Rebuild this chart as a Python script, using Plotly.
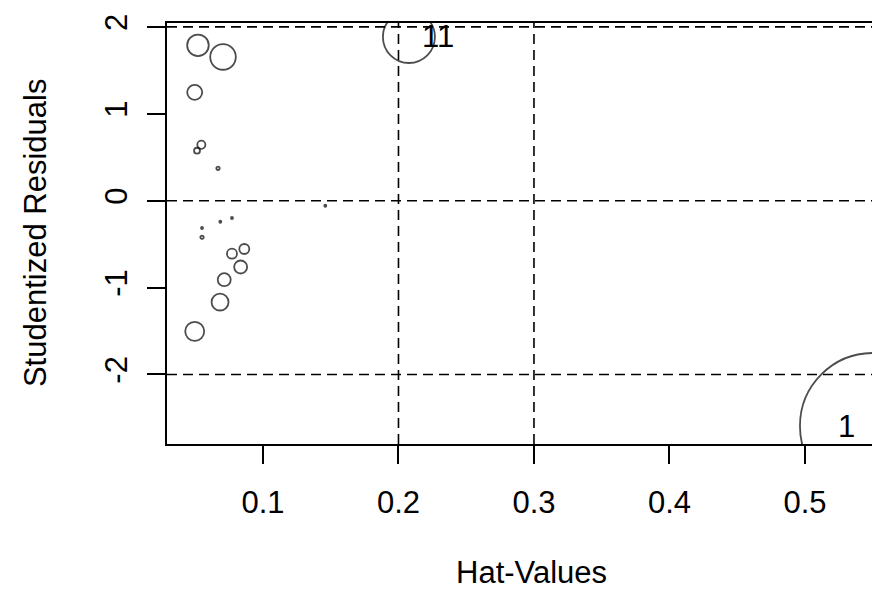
import numpy as np
import plotly.graph_objects as go

# Observations (hat-values, studentized residuals, Cook's distance)
obs_ids = [None, None, None, None, None, None, None, None, None, None,
           None, None, None, None, None, None, None, "11", "1"]
hat_values = [0.0520, 0.0705, 0.0496, 0.0545, 0.0513, 0.0668, 0.1460, 0.0771,
              0.0685, 0.0550, 0.0550, 0.0771, 0.0862, 0.0835, 0.0714, 0.0683,
              0.0496, 0.2077, 0.5502]
stud_resid = [1.788, 1.654, 1.247, 0.644, 0.575, 0.373, -0.058, -0.199,
              -0.242, -0.314, -0.421, -0.610, -0.556, -0.763, -0.909, -1.166,
              -1.503, 1.884, -2.593]
cooks_d = [0.0186, 0.0261, 0.0090, 0.0026, 0.0014, 0.00046, 0.00016, 0.00016,
           0.00016, 0.00016, 0.00046, 0.0040, 0.0040, 0.0067, 0.0067, 0.0115,
           0.0144, 0.1078, 0.85]

x_ticks = [0.1, 0.2, 0.3, 0.4, 0.5]
y_ticks = [-2, -1, 0, 1, 2]
h_ref = [-2, 0, 2]
v_ref = [0.2, 0.3]

FONT = "Liberation Sans, Arial, sans-serif"
FS = 31

max_r = 73.0
sizes = [2 * max(max_r * np.sqrt(c / max(cooks_d)), 1.0) for c in cooks_d]

fig = go.Figure()
fig.add_trace(go.Scatter(
    x=hat_values, y=stud_resid, mode="markers",
    marker=dict(symbol="circle-open", size=sizes, color="black",
                line=dict(color="black", width=1.8)),
    cliponaxis=True, showlegend=False, hoverinfo="skip"))

shapes = []
dash_line = dict(color="black", width=1.6, dash="10px,6px")
for yv in h_ref:
    shapes.append(dict(type="line", xref="paper", yref="y", x0=0, x1=1, y0=yv, y1=yv,
                       line=dash_line))
for xv in v_ref:
    shapes.append(dict(type="line", xref="x", yref="paper", x0=xv, x1=xv, y0=0, y1=1,
                       line=dash_line))

annotations = []
for xi, yi, lab in zip(hat_values, stud_resid, obs_ids):
    if lab is None:
        continue
    right = xi < 0.3
    annotations.append(dict(x=xi, y=yi, xref="x", yref="y", text=lab, showarrow=False,
                            xanchor="left" if right else "right",
                            xshift=11 if right else -16,
                            font=dict(family=FONT, size=FS, color="black")))
annotations.append(dict(x=0.5062, y=-0.3492, xref="paper", yref="paper", text="Hat-Values",
                        showarrow=False, xanchor="center", yanchor="bottom",
                        borderpad=0,
                        font=dict(family=FONT, size=FS, color="black")))
annotations.append(dict(x=-0.1831, y=0.501, xref="paper", yref="paper",
                        text="Studentized Residuals", textangle=-90, showarrow=False,
                        xanchor="center", yanchor="middle",
                        font=dict(family=FONT, size=FS, color="black")))

fig.update_layout(
    width=880, height=589,
    margin=dict(l=159, r=0, t=15, b=153),
    paper_bgcolor="white", plot_bgcolor="white",
    shapes=shapes, annotations=annotations,
    font=dict(family=FONT, size=FS, color="black"),
    xaxis=dict(range=[0.02915, 0.5613], tickvals=x_ticks,
               ticktext=[str(v) for v in x_ticks],
               showgrid=False, zeroline=False, showline=True, mirror=True,
               linecolor="black", linewidth=2, ticks="outside", ticklen=18,
               tickwidth=2, tickcolor="black", ticklabelstandoff=12,
               tickfont=dict(family=FONT, size=FS, color="black")),
    yaxis=dict(range=[-2.800, 2.045], tickvals=y_ticks,
               ticktext=[str(v) for v in y_ticks], tickangle=-90,
               showgrid=False, zeroline=False, showline=True,
               linecolor="black", linewidth=2, ticks="outside", ticklen=18,
               tickwidth=2, tickcolor="black", ticklabelstandoff=8,
               tickfont=dict(family=FONT, size=FS, color="black")),
)

fig.write_html("out.html")
